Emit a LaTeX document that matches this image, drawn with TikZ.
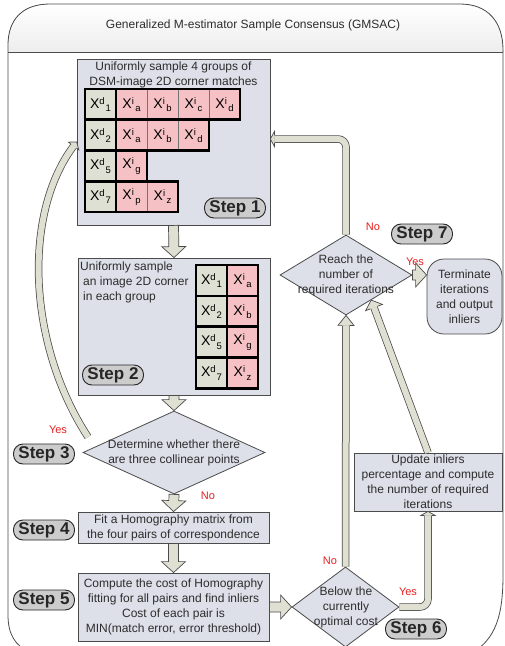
\documentclass[tikz,border=0pt]{standalone}
\usepackage{fontspec}
\setmainfont{Liberation Sans}
\usepackage{xcolor}
\usepackage{tikz}
\usetikzlibrary{
  arrows.meta, positioning, calc, shapes.geometric
}

\definecolor{boxfill}{RGB}{221,223,233}
\definecolor{arrowfill}{RGB}{223,224,210}
\definecolor{xdfill}{RGB}{222,224,211}
\definecolor{xifill}{RGB}{246,193,197}
\definecolor{stepfill}{RGB}{204,204,204}
\definecolor{edge}{RGB}{75,75,75}
\definecolor{ink}{RGB}{45,45,45}
\definecolor{answerred}{RGB}{232,30,30}

\newcommand{\bodyfont}{\fontsize{12}{15}\selectfont}
\newcommand{\smallidx}{\fontsize{9.5}{9.5}\selectfont}
% X^d_k and X^i_k as printed in the cells
\newcommand{\dsmpt}[1]{X\raisebox{4pt}{\smallidx d}\kern0.8pt\raisebox{-3.4pt}{\smallidx #1}}
\newcommand{\imgpt}[1]{X\raisebox{4pt}{\smallidx i}\kern1.4pt\raisebox{-3.4pt}{\smallidx #1}}

% fat hollow arrow from #1 to #2
\newcommand{\blockarrow}[2]{%
  \coordinate (ah) at ($(#2)!11pt!(#1)$);
  \draw[fatarrow] ($(#1)!5pt!90:(#2)$) -- ($(ah)!5pt!-90:(#1)$) -- ($(ah)!12pt!-90:(#1)$) -- (#2)
    -- ($(ah)!12pt!90:(#1)$) -- ($(ah)!5pt!90:(#1)$) -- ($(#1)!5pt!-90:(#2)$) -- cycle;}
% head of a bar connector: #1 point behind, #2 tip, #3 length, #4 half width
\newcommand{\barhead}[4]{%
  \coordinate (hb) at ($(#2)!#3!(#1)$);
  \fill[arrowfill] ($(hb)!#4!90:(#2)$) -- (#2) -- ($(hb)!#4!-90:(#2)$) -- cycle;
  \draw[draw=edge, line width=0.7pt] ($(hb)!3.75pt!90:(#2)$) -- ($(hb)!#4!90:(#2)$) -- (#2)
    -- ($(hb)!#4!-90:(#2)$) -- ($(hb)!3.75pt!-90:(#2)$);}

\tikzset{
  box/.style={draw=edge, fill=boxfill, line width=0.8pt, inner sep=1pt, text=ink, align=center, font=\bodyfont},
  decision/.style={diamond, draw=edge, fill=boxfill, line width=0.8pt, inner sep=0pt},
  txt/.style={text=ink, align=center, font=\bodyfont, inner sep=0pt},
  steplabel/.style={draw=black!85, fill=stepfill, line width=0.9pt, rounded corners=9.5pt, minimum height=20pt,
    inner xsep=5pt, inner ysep=2pt, font=\fontsize{17}{17}\selectfont\bfseries, text=black!85},
  answer/.style={text=answerred, font=\fontsize{11}{11}\selectfont, inner sep=0pt},
  fatarrow/.style={draw=edge, fill=arrowfill, line width=0.7pt, line join=miter},
  flowbar/.style={line width=7.5pt, draw=edge, postaction={draw=arrowfill, line width=6pt}},
  celltxt/.style={inner sep=0pt, text=black, font=\fontsize{14}{14}\selectfont},
}

\begin{document}
\begin{tikzpicture}[x=1pt,y=-1pt]
  \useasboundingbox (0,0) rectangle (504,646);
  % frame and title band
  \fill[top color=white, bottom color=gray!14] (8,52) -- (8,45) .. controls (8,20) and (22,4) .. (50,4)
    -- (460,4) .. controls (488,4) and (503,22) .. (503,50) -- (503,52) -- cycle;
  \draw[edge, line width=0.8pt] (30,652) .. controls (15,646) and (8,634) .. (8,615) -- (8,45)
    .. controls (8,20) and (22,4) .. (50,4) -- (460,4) .. controls (488,4) and (503,22) .. (503,50)
    -- (503,575) .. controls (503,615) and (496,640) .. (470,654);
  \draw[edge, line width=0.8pt] (8,52) -- (503,52);
  \node[txt] (title) at (253,25) {Generalized M-estimator Sample Consensus (GMSAC)};

  % step 1: four groups of matches
  \node[box, minimum width=193, minimum height=166] (s1) at (173.5,142) {};
  \node[txt] (s1text) at (173.5,74.5) {Uniformly sample 4 groups of\\DSM-image 2D corner matches};
  \foreach \r/\dd/\n/\lst in {0/1/4/{a,b,c,d}, 1/2/3/{a,b,d}, 2/5/1/{g}, 3/7/2/{p,z}} {
    \pgfmathsetmacro{\ytop}{89+\r*30.75}
    \fill[xdfill] (85,\ytop) rectangle +(31,30.75);
    \node[celltxt] (ga\r) at (100.5,\ytop+15.6) {\dsmpt{\dd}};
    \foreach \c [count=\k] in \lst {
      \filldraw[fill=xifill, draw=black!55, line width=0.4pt] (85+31*\k,\ytop) rectangle +(31,30.75);
      \node[celltxt] (gb\r\k) at (100.5+31*\k,\ytop+15.6) {\imgpt{\c}};
    }
    \draw[line width=2.6pt] (85,\ytop) rectangle +(31,30.75);
    \draw[line width=2.6pt] (116,\ytop) rectangle +(31*\n,30.75);
  }
  \node[steplabel] (st1) at (235,208) {Step 1};

  % step 2: one image corner per group
  \node[box, minimum width=192, minimum height=137] (s2) at (174,326.5) {};
  \node[txt, anchor=north west, align=left] (s2text) at (80,262) {Uniformly sample\\\hspace*{3pt}an image 2D corner\\\hspace*{3pt}in each group};
  \foreach \r/\dd/\c in {0/1/a, 1/2/b, 2/5/g, 3/7/z} {
    \pgfmathsetmacro{\ytop}{265+\r*30.8}
    \fill[xdfill] (196,\ytop) rectangle +(31,30.8);
    \fill[xifill] (227,\ytop) rectangle +(31,30.8);
    \node[celltxt] (ha\r) at (211.5,\ytop+15.6) {\dsmpt{\dd}};
    \node[celltxt] (hb\r) at (242.5,\ytop+15.6) {\imgpt{\c}};
    \draw[line width=2.6pt] (196,\ytop) rectangle +(31,30.8);
    \draw[line width=2.6pt] (227,\ytop) rectangle +(31,30.8);
  }
  \node[steplabel] (st2) at (113,375) {Step 2};

  % step 3: collinearity test
  \node[decision, minimum width=182, minimum height=83] (d3) at (174,452.5) {};
  \node[txt] (d3text) at (174,453) {Determine whether there\\are three collinear points};
  \node[steplabel] (st3) at (44,454) {Step 3};
  \node[answer] (d3yes) at (58,430) {Yes};
  \node[answer] (d3no) at (208,496) {No};

  % step 4 and 5
  \node[box, minimum width=191, minimum height=31] (s4) at (173.5,527.5) {Fit a Homography matrix from\\the four pairs of correspondence};
  \node[steplabel] (st4) at (44,530) {Step 4};
  \node[box, minimum width=191, minimum height=68] (s5) at (173.5,607) {Compute the cost of Homography\\fitting for all pairs and find inliers\\Cost of each pair is\\MIN(match error, error threshold)};
  \node[steplabel] (st5) at (44,600) {Step 5};

  % step 6: cost test and update
  \node[decision, minimum width=107, minimum height=80] (d6) at (345.5,607) {};
  \node[txt] (d6text) at (346,607) {Below the\\currently\\optimal cost};
  \node[steplabel] (st6) at (416,629) {Step 6};
  \node[answer] (d6no) at (330,561) {No};
  \node[answer] (d6yes) at (408,592) {Yes};
  \node[box, inner ysep=0pt, minimum width=148, minimum height=58] (upd) at (428,482) {Update inliers\\percentage and compute\\the number of required\\iterations};

  % step 7: stop test
  \node[decision, minimum width=132, minimum height=80] (reach) at (346,275) {};
  \node[txt] (reachtext) at (346,275) {Reach the\\number of\\required iterations};
  \node[box, rounded corners=17pt, minimum width=75, minimum height=75] (term) at (464.5,296.5) {Terminate\\iterations\\and output\\inliers};
  \node[steplabel] (st7) at (422,234) {Step 7};
  \node[answer] (reachno) at (373,227) {No};
  \node[answer] (reachyes) at (415,262) {Yes};

  % fat arrows
  \blockarrow{s1.south}{s2.north}
  \blockarrow{s2.south}{d3.north}
  \blockarrow{d3.south}{s4.north}
  \blockarrow{s4.south}{s5.north}
  \blockarrow{s5.east}{d6.west}
  \coordinate (termin) at (term.west |- reach.east);
  \blockarrow{reach.east}{termin}

  % bar connectors
  \coordinate (yesfoot) at (88,437);
  \coordinate (yesctrl) at (22,215);
  \draw[flowbar, shorten >=5pt] (yesfoot) .. controls (28,345) and (yesctrl) .. (s1.west);
  \barhead{yesctrl}{s1.west}{5pt}{6.5pt}
  \coordinate (s1in) at ($(s1.east)+(0,-3)$);
  \coordinate (nocorner) at (reach.north |- s1in);
  \draw[flowbar, rounded corners=8pt, shorten >=4pt] (reach.north) |- (s1in);
  \barhead{nocorner}{s1in}{4pt}{7.5pt}
  \draw[flowbar, shorten >=10pt] (d6.north) -- (reach.south);
  \barhead{d6.north}{reach.south}{10pt}{8pt}
  \coordinate (yescorner) at (d6.east -| upd.south);
  \draw[flowbar, rounded corners=8pt, shorten >=4pt] (d6.east) -| (upd.south);
  \barhead{yescorner}{upd.south}{4pt}{7pt}
  \coordinate (reachin) at ($(reach.east)!0.62!(reach.south)$);
  \draw[flowbar, shorten >=8pt] (upd.north) -- (reachin);
  \barhead{upd.north}{reachin}{8pt}{9pt}
\end{tikzpicture}
\end{document}
